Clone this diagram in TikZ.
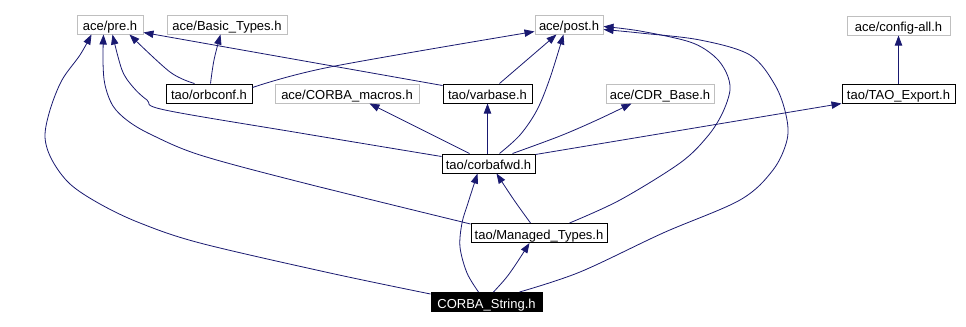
\documentclass[tikz,border=0pt]{standalone}
\usepackage{fontspec}
\setmainfont{Liberation Sans}
\usetikzlibrary{arrows.meta,calc}
\definecolor{edgeblue}{HTML}{191970}
\definecolor{extgray}{HTML}{BFBFBF}
\begin{document}
\begin{tikzpicture}[x=0.75pt,y=-0.75pt,
  every node/.style={font=\fontsize{9.75}{11}\selectfont, inner sep=0pt,
    minimum height=14.25pt, text height=9.8pt, text depth=0.6pt, line width=0.75pt},
  intbox/.style={draw=black, fill=white},
  extbox/.style={draw=extgray, fill=white},
  rootbox/.style={draw=black, fill=black, text=white},
  bw/.style={minimum width=#1*0.75pt},
  edge/.style={draw=edgeblue, line width=0.6pt, -{Triangle[length=7.5pt,width=5.5pt]}},
  smoothline/.style={smooth, tension=0.55}]
\useasboundingbox (0,0) rectangle (966,326);

% header files
\node[extbox,bw=66]  (pre)      at (110,24.5)   {ace/pre.h};
\node[extbox,bw=120] (basic)    at (227,24.5)   {ace/Basic\_Types.h};
\node[extbox,bw=68]  (post)     at (569,24.5)   {ace/post.h};
\node[extbox,bw=103] (config)   at (898.5,25.5) {ace/config-all.h};
\node[intbox,bw=86]  (orbconf)  at (209,93.5)   {tao/orbconf.h};
\node[extbox,bw=144] (macros)   at (347,93.5)   {ace/CORBA\_macros.h};
\node[intbox,bw=89]  (varbase)  at (487.5,93.5) {tao/varbase.h};
\node[extbox,bw=108] (cdr)      at (660,93.5)   {ace/CDR\_Base.h};
\node[intbox,bw=113] (tao)      at (898.5,93.5) {tao/TAO\_Export.h};
\node[intbox,bw=93]  (corbafwd) at (488.5,163.5){tao/corbafwd.h};
\node[intbox,bw=136] (managed)  at (539,233)    {tao/Managed\_Types.h};
\node[rootbox,bw=111] (cs)      at (486.5,302)  {CORBA\_String.h};

% include dependencies
\draw[edge] plot[smoothline] coordinates {($(cs.north west)+(0,2)$) (330,273) (200,243) (140,223) (100,204) (70,184) (52,160) (45,137) (50,110) (62,80) (80,55) ($(pre.south west)+(15,0)$)};
\draw[edge] plot[smoothline] coordinates {($(managed.north west)+(0,1)$) (300,182) (200,155) (152,135) (128,121) (113,106) (105,85) (103,62) ($(pre.south west)+(27,0)$)};
\draw[edge] plot[smoothline] coordinates {($(corbafwd.north west)+(0,3)$) (300,133) (165,110) (147,100) (133,87) (122,70) ($(pre.south west)+(36,0)$)};
\draw[edge] plot[smoothline] coordinates {($(orbconf.north west)+(29,0)$) (170,72) ($(pre.south east)+(-14,0)$)};
\draw[edge] plot[smoothline] coordinates {($(orbconf.north west)+(45,0)$) (214,60) ($(basic.south west)+(54,0)$)};
\draw[edge] plot[smoothline] coordinates {($(orbconf.north east)+(0,4)$) (330,67) ($(post.south west)+(0,-3)$)};
\draw[edge] ($(varbase.north west)+(0,2)$) -- ($(pre.south east)+(0,-2)$);
\draw[edge] ($(varbase.north west)+(57,0)$) -- ($(post.south west)+(22,0)$);
\draw[edge] ($(corbafwd.north west)+(46,0)$) -- ($(varbase.south west)+(45,0)$);
\draw[edge] ($(corbafwd.north west)+(28,0)$) -- ($(macros.south west)+(95,0)$);
\draw[edge] plot[smoothline] coordinates {($(corbafwd.north west)+(58,0)$) (520,135) (537,110) (550,78) ($(post.south west)+(29,0)$)};
\draw[edge] plot[smoothline] coordinates {($(corbafwd.north west)+(71,0)$) (560,136) (597,120) ($(cdr.south west)+(26,0)$)};
\draw[edge] ($(corbafwd.north east)+(0,1)$) -- (tao.south west);
\draw[edge] (tao.north) -- (config.south);
\draw[edge] plot[smoothline] coordinates {($(managed.north west)+(60,0)$) (514,200) ($(corbafwd.south west)+(55,0)$)};
\draw[edge] plot[smoothline] coordinates {($(managed.north west)+(99,0)$) (620,200) (680,163) (707,137) (722,114) (730,90) (726,72) (714,56) (690,42) (640,31) ($(post.east)+(0,2)$)};
\draw[edge] plot[smoothline] coordinates {($(cs.north west)+(89,0)$) (580,272) (663,233) (740,200) (773,170) (787,140) (786,115) (775,85) (750,55) (700,40) (640,33) ($(post.east)+(0,5)$)};
\draw[edge] plot[smoothline] coordinates {($(cs.north west)+(48,0)$) (467,273) (460,247) (462,223) (468,203) ($(corbafwd.south west)+(36,0)$)};
\draw[edge] plot[smoothline] coordinates {($(cs.north west)+(63,0)$) (506,278) (516,264) ($(managed.south west)+(59,0)$)};
\end{tikzpicture}
\end{document}
